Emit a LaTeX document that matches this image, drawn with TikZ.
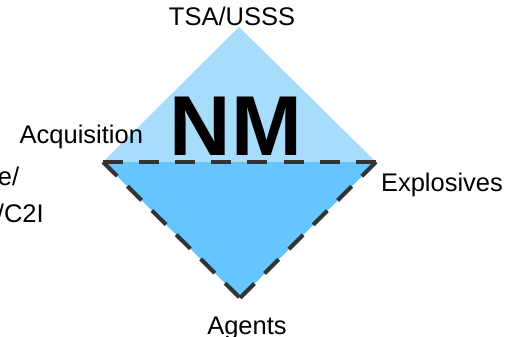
\documentclass[tikz,border=0pt]{standalone}
\usepackage{fontspec}
\setmainfont{Liberation Sans}
\usetikzlibrary{positioning}
\definecolor{paleblue}{HTML}{A8DCFB}
\definecolor{midblue}{HTML}{66C4FF}
\definecolor{dashgray}{HTML}{333333}

\begin{document}
\begin{tikzpicture}
[x=1pt,y=-1pt,
 every node/.style={inner sep=0mm,outer sep=0mm,font=\fontsize{25.5}{30}\selectfont},
 lbl/.style={anchor=base},
 big/.style={anchor=base,font=\fontsize{85}{95}\selectfont\bfseries},
 rim/.style={draw=dashgray,line width=4pt},
 longrim/.style={rim,dash pattern=on 20pt off 16.1pt},
 siderim/.style={rim,dash pattern=on 20pt off 14.4pt}]
\useasboundingbox (0,0) rectangle (506,337);
\coordinate (top) at (239,27);
\coordinate (lft) at (103,162);
\coordinate (rgt) at (376,162);
\coordinate (bot) at (240,298);
\fill[paleblue] (top) -- (rgt) -- (bot) -- (lft) -- cycle;
\fill[midblue]  (lft) -- (rgt) -- (bot) -- cycle;
\draw[longrim]  (lft) -- (rgt);
\draw[siderim]  (rgt) -- (bot);
\draw[siderim]  (lft) -- (bot);

\node[big]                   (nm)   at (236,155) {NM};
\node[lbl]                   (tsa)  at (232,26)  {TSA/USSS};
\node[lbl,anchor=base east]  (acq)  at (143,143) {Acquisition};
\node[lbl,anchor=base west]  (expl) at (381,191) {Explosives};
\node[lbl]                   (agt)  at (247,334) {Agents};

% label running off the left edge of the slide
\node[lbl,anchor=base west]  (cutA) at (-2,185)  {e/};
\node[lbl,anchor=base west]  (cutB) at (-3,222)  {/C2I};
\end{tikzpicture}
\end{document}
